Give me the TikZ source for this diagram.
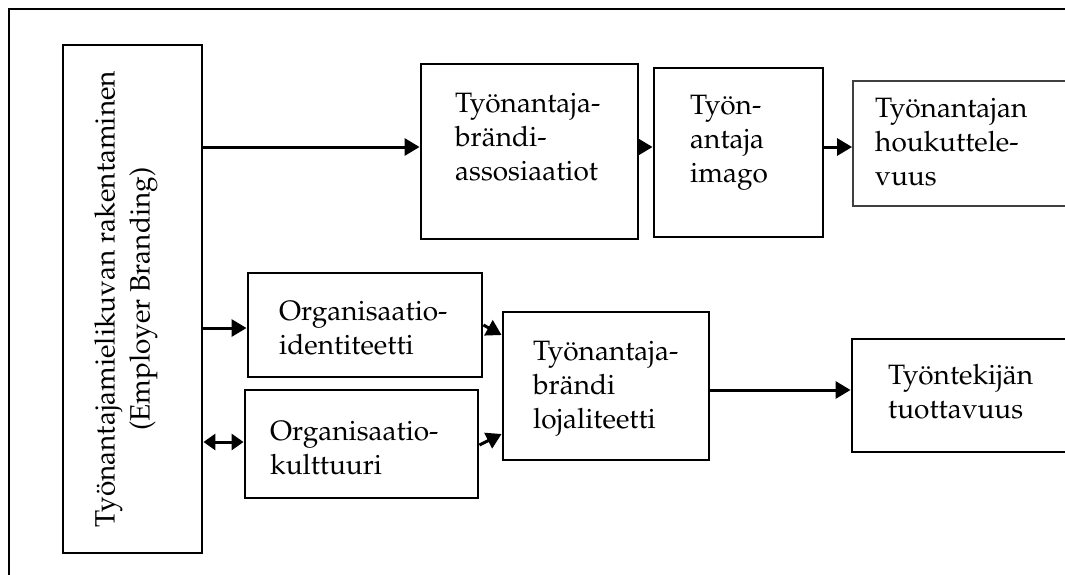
\documentclass[tikz,border=0pt]{standalone}
\usepackage[T1]{fontenc}
\usepackage{mathpazo}
\usetikzlibrary{arrows.meta}
% multi-line left-aligned text whose baseline is that of its first line
\newcommand\boxlines[1]{\begin{tabular}[t]{@{}l@{}}#1\end{tabular}}
\begin{document}
\begin{tikzpicture}[x=1pt,y=-1pt,
  frame/.style={line width=2.8pt},
  blk/.style={draw, line width=2.9pt, inner sep=0pt},
  thinblk/.style={draw=black!75, line width=1.8pt, inner sep=0pt},
  txt/.style={inner sep=0pt, anchor=base west, font=\fontsize{28}{34}\selectfont},
  arr/.style={line width=3pt, -{Triangle[length=15pt,width=17pt]}},
  darr/.style={line width=3pt, {Triangle[length=12pt,width=16pt]}-{Triangle[length=12pt,width=16pt]}}
]
\useasboundingbox (0,0) rectangle (1065,574);
\clip (0,0) rectangle (1065,574);

% open frame: top and left sides only
\coordinate (fBL) at (9,590);
\coordinate (fTL) at (9,9);
\coordinate (fTR) at (1080,9);
\draw[frame] (fBL) -- (fTL) -- (fTR);

% boxes
\node[blk, minimum width=139pt, minimum height=508pt] (M) at (132.5,299) {};
\node[blk, minimum width=217pt, minimum height=175pt] (A) at (529.5,151.5) {};
\node[blk, minimum width=169pt, minimum height=169pt] (B) at (738.5,152.5) {};
\node[thinblk, minimum width=227pt, minimum height=125pt] (C) at (966.5,143.5) {};
\node[blk, minimum width=234pt, minimum height=104pt] (D) at (365,325) {};
\node[blk, minimum width=233pt, minimum height=108pt] (E) at (361.5,444) {};
\node[blk, minimum width=206pt, minimum height=148pt] (F) at (606,386) {};
\node[blk, minimum width=228pt, minimum height=113pt] (G) at (966,395.5) {};

% texts
\node[inner sep=0pt, rotate=90, align=center, font=\fontsize{28}{35}\selectfont] (tM) at (126,299)
  {Työnantajamielikuvan rakentaminen\\(Employer Branding)};
\node[txt] (tA) at (455,112) {\boxlines{Työnantaja-\\brändi-\\assosiaatiot}};
\node[txt] (tB) at (690,114) {\boxlines{Työn-\\antaja\\imago}};
\node[txt] (tC) at (875,117) {\boxlines{Työnantajan\\houkuttele-\\vuus}};
\node[txt] (tD) at (279,320) {\boxlines{Organisaatio-\\identiteetti}};
\node[txt] (tE) at (270,440) {\boxlines{Organisaatio-\\kulttuuri}};
\node[txt] (tF) at (533,360) {\boxlines{Työnantaja-\\brändi\\lojaliteetti}};
\node[txt] (tG) at (888,384) {\boxlines{Työntekijän\\tuottavuus}};

% connector heights
\coordinate (rowTop) at (0,147);
\coordinate (rowD) at (0,328);
\coordinate (rowE) at (0,442);
\coordinate (rowF) at (0,390);
\coordinate (dOut) at (0,325);
\coordinate (dIn) at (0,335);
\coordinate (eOut) at (0,445);
\coordinate (eIn) at (0,434);

% connectors
\draw[arr] (M.east |- rowTop) -- (A.west |- rowTop);
\draw[arr] (A.east |- rowTop) -- (B.west |- rowTop);
\draw[arr] (B.east |- rowTop) -- (C.west |- rowTop);
\draw[arr] (M.east |- rowD) -- (D.west |- rowD);
\draw[darr] (M.east |- rowE) -- (E.west |- rowE);
\draw[arr] (D.east |- dOut) -- (F.west |- dIn);
\draw[arr] (E.east |- eOut) -- (F.west |- eIn);
\draw[arr] (F.east |- rowF) -- (G.west |- rowF);
\end{tikzpicture}
\end{document}
